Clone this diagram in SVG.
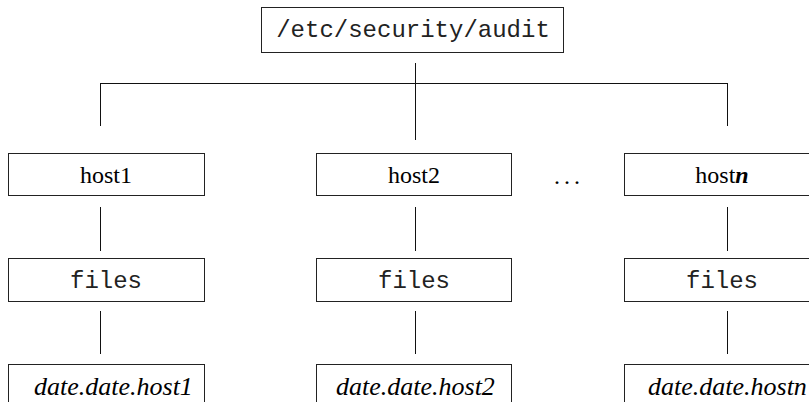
<svg xmlns="http://www.w3.org/2000/svg" width="809" height="402" viewBox="0 0 809 402">
<style>
.box{fill:#fff;stroke:#222;stroke-width:1}
.ln{stroke:#111;stroke-width:1;fill:none}
.mono{font-family:"Liberation Mono","Courier New",monospace;font-size:24px;fill:#222}
.serif{font-family:"Liberation Serif","Times New Roman",serif;font-size:24px;fill:#000}
.it{font-family:"Liberation Serif","Times New Roman",serif;font-size:26px;font-style:italic;fill:#000}
</style>
<rect width="809" height="402" fill="#fff"/>
<g id="connectors">
<path class="ln" d="M415.5 63V140M100.5 83.5H727.5M100.5 83V126M727.5 83V126"/>
<path class="ln" d="M100.5 207V251M100.5 311V354"/>
<path class="ln" d="M415.5 207V251M415.5 311V354"/>
<path class="ln" d="M727.5 207V251M727.5 311V354"/>
</g>
<g id="root">
<rect class="box" x="261.5" y="7.5" width="302" height="45"/>
<text class="mono" x="413" y="37" text-anchor="middle">/etc/security/audit</text>
</g>
<g id="host1">
<rect class="box" x="8.5" y="153.5" width="196" height="42"/>
<text class="serif" x="106" y="183" text-anchor="middle">host1</text>
</g>
<g id="host2">
<rect class="box" x="316.5" y="153.5" width="195" height="42"/>
<text class="serif" x="414" y="183" text-anchor="middle">host2</text>
</g>
<g id="dots">
<text class="serif" x="569" y="184" text-anchor="middle" letter-spacing="4">...</text>
</g>
<g id="hostn">
<rect class="box" x="624.5" y="153.5" width="196" height="42"/>
<text class="serif" x="722" y="183" text-anchor="middle">host<tspan font-style="italic" font-weight="bold">n</tspan></text>
</g>
<g id="files1">
<rect class="box" x="8.5" y="258.5" width="196" height="43"/>
<text class="mono" x="106" y="288" text-anchor="middle">files</text>
</g>
<g id="files2">
<rect class="box" x="316.5" y="258.5" width="195" height="43"/>
<text class="mono" x="414" y="288" text-anchor="middle">files</text>
</g>
<g id="filesn">
<rect class="box" x="624.5" y="258.5" width="196" height="43"/>
<text class="mono" x="722" y="288" text-anchor="middle">files</text>
</g>
<g id="date1">
<rect class="box" x="8.5" y="364.5" width="196" height="50"/>
<text class="it" x="34" y="395">date.date.host1</text>
</g>
<g id="date2">
<rect class="box" x="316.5" y="364.5" width="195" height="50"/>
<text class="it" x="336" y="395">date.date.host2</text>
</g>
<g id="daten">
<rect class="box" x="624.5" y="364.5" width="196" height="50"/>
<text class="it" x="648" y="395">date.date.hostn</text>
</g>
</svg>
